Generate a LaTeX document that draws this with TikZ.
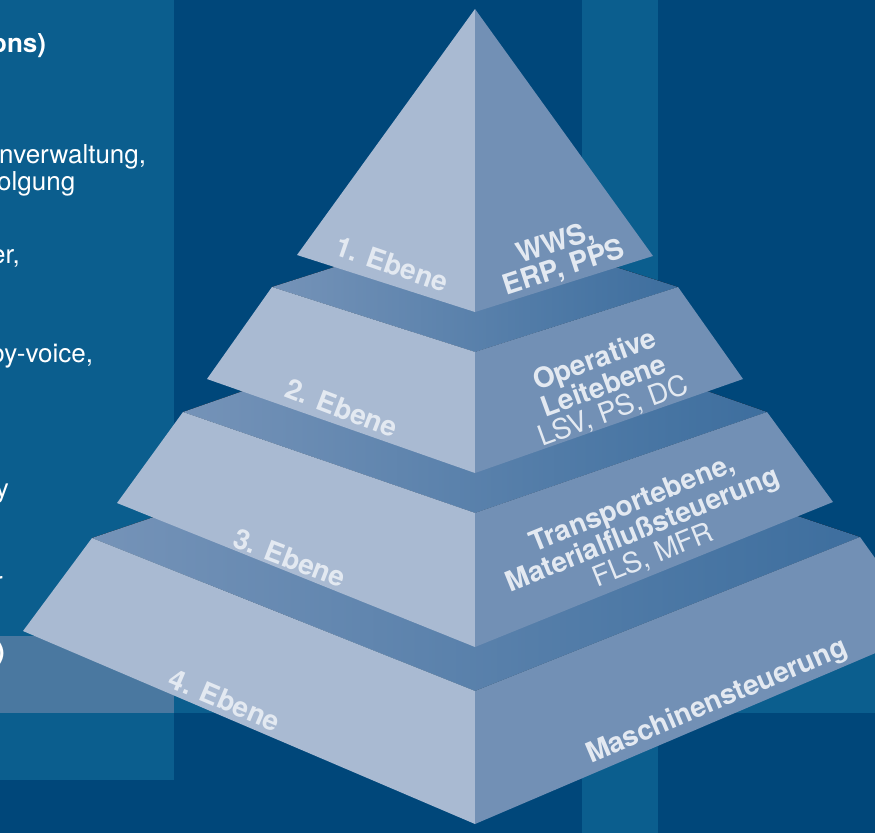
\documentclass[tikz,border=0pt]{standalone}
\usepackage{fontspec}
\setmainfont{TeX Gyre Heros}
\usetikzlibrary{positioning}

\definecolor{bgdark}{RGB}{0,71,122}
\definecolor{bglight}{RGB}{11,94,142}
\definecolor{bandmid}{RGB}{74,120,160}
\definecolor{facelight}{RGB}{169,186,210}
\definecolor{facedark}{RGB}{114,144,181}
\definecolor{topleft}{RGB}{117,147,184}
\definecolor{topright}{RGB}{61,110,158}
\definecolor{labelcol}{RGB}{227,233,241}

\tikzset{
  lface/.style={fill=facelight},
  rface/.style={fill=facedark},
  topface/.style={left color=topleft, right color=topright},
  lvl/.style={text=labelcol, font=\fontsize{28}{26}\selectfont\bfseries, align=center, inner sep=0pt},
  sidetext/.style={text=white, font=\fontsize{26}{30}\selectfont, inner sep=0pt},
}

\begin{document}
\begin{tikzpicture}[x=1pt,y=-1pt]
% Background and frame
\useasboundingbox (0,0) rectangle (875,833);
\clip (0,0) rectangle (875,833);
\fill[bgdark] (0,0) rectangle (875,833);

% Light stripes
\fill[bglight] (582,0) rectangle (658,833);
\fill[bglight] (0,636) rectangle (875,713);
\fill[bglight] (0,0) rectangle (174,780);
\fill[bandmid] (0,636) rectangle (174,713);

% Side panel texts (cut off at the left border)
\node[sidetext, font=\fontsize{26}{30}\selectfont\bfseries, anchor=base west] (t1) at (-9,52) {ons)};
\node[sidetext, anchor=base west] (t2) at (-1,163) {nverwaltung,};
\node[sidetext, anchor=base west] (t3) at (-3,190) {olgung};
\node[sidetext, anchor=base west] (t4) at (-9,263) {er,};
\node[sidetext, anchor=base west] (t5) at (-10,362) {by-voice,};
\node[sidetext, anchor=base east] (t6) at (9,497) {y};
\node[sidetext, anchor=base east] (t7) at (3,590) {r};
\node[sidetext, font=\fontsize{26}{30}\selectfont\bfseries, anchor=base east] (t8) at (5,660) {)};

% Corners of the levels
\coordinate (A) at (475,9);
\coordinate (L1) at (297,255); \coordinate (F1) at (475,312); \coordinate (R1) at (653,256);
\coordinate (L2) at (272,287); \coordinate (F2) at (475,352); \coordinate (R2) at (678,287); \coordinate (B2) at (475,222);
\coordinate (M2) at (207,379); \coordinate (C2) at (475,473); \coordinate (N2) at (743,379);
\coordinate (L3) at (183,412); \coordinate (F3) at (475,513); \coordinate (R3) at (767,412); \coordinate (B3) at (475,310);
\coordinate (M3) at (117,503); \coordinate (C3) at (475,647); \coordinate (N3) at (833,502);
\coordinate (L4) at (92,538); \coordinate (F4) at (475,691); \coordinate (R4) at (860,537); \coordinate (B4) at (475,408);
\coordinate (M4) at (23,631); \coordinate (C4) at (475,824); \coordinate (N4) at (927,631);

% 4. Ebene
\fill[topface] (L4) -- (B4) -- (R4) -- (F4) -- cycle;
\fill[lface] (L4) -- (M4) -- (C4) -- (F4) -- cycle;
\fill[rface] (F4) -- (R4) -- (N4) -- (C4) -- cycle;

% 3. Ebene
\fill[topface] (L3) -- (B3) -- (R3) -- (F3) -- cycle;
\fill[lface] (L3) -- (M3) -- (C3) -- (F3) -- cycle;
\fill[rface] (F3) -- (R3) -- (N3) -- (C3) -- cycle;

% 2. Ebene
\fill[topface] (L2) -- (B2) -- (R2) -- (F2) -- cycle;
\fill[lface] (L2) -- (M2) -- (C2) -- (F2) -- cycle;
\fill[rface] (F2) -- (R2) -- (N2) -- (C2) -- cycle;

% 1. Ebene
\fill[lface] (A) -- (L1) -- (F1) -- cycle;
\fill[rface] (A) -- (R1) -- (F1) -- cycle;

% Level names
\node[lvl, rotate=-19] (e1) at (392,264) {1. Ebene};
\node[lvl, rotate=-21] (e2) at (342,408) {2. Ebene};
\node[lvl, rotate=-21] (e3) at (290,558) {3. Ebene};
\node[lvl, rotate=-23] (e4) at (225,700) {4. Ebene};

% Systems
\node[lvl, rotate=18] (s1) at (560,256) {WWS,\\ERP, PPS};
\node[lvl, rotate=20] (s2) at (604,386) {Operative\\Leitebene\\{\mdseries LSV, PS, DC}};
\node[lvl, rotate=22] (s3) at (643,530) {Transportebene,\\Materialflußsteuerung\\{\mdseries FLS, MFR}};
\node[lvl, rotate=23] (s4) at (717,702) {Maschinensteuerung};

\end{tikzpicture}
\end{document}
